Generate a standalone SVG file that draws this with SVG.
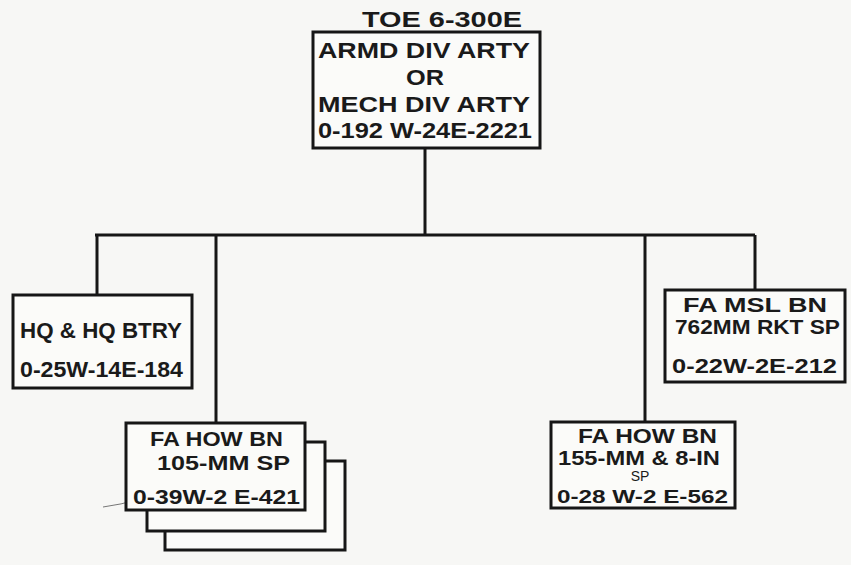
<svg xmlns="http://www.w3.org/2000/svg" width="851" height="565" viewBox="0 0 851 565">
<style>
.bg{fill:#f7f7f5}
.box{fill:#fbfbf9;stroke:#161616;stroke-width:3}
.ln{fill:none;stroke:#161616;stroke-width:3}
text{font-family:"Liberation Sans","DejaVu Sans",sans-serif;font-weight:bold;fill:#1a1a1a;font-size:22px}
.s{font-size:20px}
.xs{font-size:14px;font-weight:normal}
</style>
<rect class="bg" x="0" y="0" width="851" height="565"/>
<g id="connectors">
<path class="ln" d="M425 148 V235 M95 235 H755 M97 235 V295 M216 235 V423 M645 235 V422 M755 235 V290"/>
<path d="M103 507 Q140 502 170 487" fill="none" stroke="#555" stroke-width="0.8"/>
</g>
<text x="362" y="27" textLength="160" lengthAdjust="spacingAndGlyphs">TOE 6-300E</text>
<g id="armd">
<rect class="box" x="313" y="32" width="227" height="116"/>
<text x="318" y="58" textLength="212" lengthAdjust="spacingAndGlyphs">ARMD DIV ARTY</text>
<text x="406" y="85" textLength="38" lengthAdjust="spacingAndGlyphs">OR</text>
<text x="318" y="112" textLength="212" lengthAdjust="spacingAndGlyphs">MECH DIV ARTY</text>
<text x="318" y="138" textLength="214" lengthAdjust="spacingAndGlyphs">0-192 W-24E-2221</text>
</g>
<g id="hq">
<rect class="box" x="13" y="295" width="179" height="93"/>
<text x="20" y="338" textLength="162" lengthAdjust="spacingAndGlyphs">HQ &amp; HQ BTRY</text>
<text x="20" y="377" textLength="163" lengthAdjust="spacingAndGlyphs">0-25W-14E-184</text>
</g>
<g id="msl">
<rect class="box" x="665" y="290" width="180" height="92"/>
<text class="s" x="683" y="312" textLength="144" lengthAdjust="spacingAndGlyphs">FA MSL BN</text>
<text class="s" x="675" y="334" textLength="165" lengthAdjust="spacingAndGlyphs">762MM RKT SP</text>
<text class="s" x="672" y="373" textLength="165" lengthAdjust="spacingAndGlyphs">0-22W-2E-212</text>
</g>
<g id="how105">
<rect class="box" x="165" y="461" width="180" height="89"/>
<rect class="box" x="147" y="442" width="178" height="89"/>
<rect class="box" x="126" y="423" width="179" height="87"/>
<text class="s" x="150" y="446" textLength="133" lengthAdjust="spacingAndGlyphs">FA HOW BN</text>
<text class="s" x="157" y="470" textLength="133" lengthAdjust="spacingAndGlyphs">105-MM SP</text>
<text class="s" x="133" y="504" textLength="167" lengthAdjust="spacingAndGlyphs">0-39W-2 E-421</text>
</g>
<g id="how155">
<rect class="box" x="551" y="422" width="184" height="86"/>
<text class="s" x="578" y="443" textLength="139" lengthAdjust="spacingAndGlyphs">FA HOW BN</text>
<text class="s" x="558" y="465" textLength="162" lengthAdjust="spacingAndGlyphs">155-MM &amp; 8-IN</text>
<text class="xs" x="640" y="481" text-anchor="middle">SP</text>
<text x="557" y="503" style="font-size:19px" textLength="171" lengthAdjust="spacingAndGlyphs">0-28 W-2 E-562</text>
</g>
</svg>
